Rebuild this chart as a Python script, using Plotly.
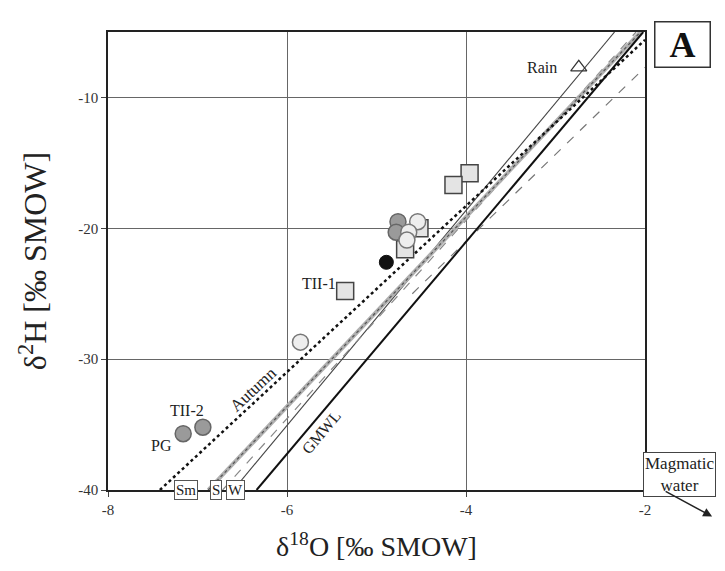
import plotly.graph_objects as go

# ---- data ----
sq_x = [-3.96, -4.14, -4.52, -4.68, -5.35]
sq_y = [-15.8, -16.7, -20.0, -21.6, -24.8]

dark_x = [-4.76, -4.78, -7.16, -6.94]
dark_y = [-19.5, -20.3, -35.7, -35.2]

light_x = [-4.54, -4.64, -4.66, -5.85]
light_y = [-19.5, -20.3, -20.9, -28.7]

black_x = [-4.89]
black_y = [-22.6]

rain_x = [-2.74]
rain_y = [-7.7]

autumn_x = [-7.42, -2.0]
autumn_y = [-40, -5.6]
summer_x = [-6.88, -2.05]
summer_y = [-40, -5]
spring_x = [-6.72, -2.1]
spring_y = [-40, -5]
winter_x = [-6.6, -2.34]
winter_y = [-40, -5]
gmwl_x = [-6.34, -2.02]
gmwl_y = [-40, -5]
rainline_x = [-4.6, -2.0]
rainline_y = [-25, -7.7]

x_ticks = [-8, -6, -4, -2]
x_ticktext = ["-8", "-6", "-4", "-2"]
y_ticks = [-40, -30, -20, -10]
y_ticktext = ["-40", "-30", "-20", "-10"]

FONT = "Liberation Serif, Times New Roman, serif"

fig = go.Figure()

def line(x, y, color, width, dash="solid"):
    fig.add_trace(go.Scatter(x=x, y=y, mode="lines",
                             line=dict(color=color, width=width, dash=dash),
                             hoverinfo="skip", showlegend=False))

line(rainline_x, rainline_y, "#777777", 1.2, "dash")
line(winter_x, winter_y, "#444444", 1.1)
line(spring_x, spring_y, "#888888", 1.2, "dash")
line(summer_x, summer_y, "#b0b0b0", 4)
line(summer_x, summer_y, "#555555", 1.2, "dot")
line(gmwl_x, gmwl_y, "#111111", 2)
line(autumn_x, autumn_y, "#111111", 2.5, "dot")

fig.add_trace(go.Scatter(x=sq_x, y=sq_y, mode="markers", showlegend=False,
                         marker=dict(symbol="square", size=17, color="#e4e4e4",
                                     line=dict(color="#444444", width=1.5))))
fig.add_trace(go.Scatter(x=dark_x, y=dark_y, mode="markers", showlegend=False,
                         marker=dict(symbol="circle", size=16, color="#9a9a9a",
                                     line=dict(color="#666666", width=1.5))))
fig.add_trace(go.Scatter(x=light_x, y=light_y, mode="markers", showlegend=False,
                         marker=dict(symbol="circle", size=16, color="#eeeeee",
                                     line=dict(color="#777777", width=1.5))))
fig.add_trace(go.Scatter(x=black_x, y=black_y, mode="markers", showlegend=False,
                         marker=dict(symbol="circle", size=14, color="#111111",
                                     line=dict(color="#111111", width=1))))
fig.add_trace(go.Scatter(x=rain_x, y=rain_y, mode="markers", showlegend=False,
                         marker=dict(symbol="triangle-up-open", size=14, color="#333333",
                                     line=dict(width=1.2))))

tf = dict(family=FONT, size=16, color="#222222")
labels = [("Rain", -3.15, -7.7), ("TII-1", -5.64, -24.2),
          ("TII-2", -7.12, -33.9), ("PG", -7.40, -36.6)]
for t, x, y in labels:
    fig.add_annotation(x=x, y=y, text=t, showarrow=False, font=tf)

fig.add_annotation(x=-6.38, y=-32.3, text="Autumn", showarrow=False, textangle=-43,
                   font=dict(family=FONT, size=17, color="#222222"))
fig.add_annotation(x=-5.62, y=-35.6, text="GMWL", showarrow=False, textangle=-50,
                   font=dict(family=FONT, size=16, color="#222222"))

for t, x in [("Sm", -7.13), ("S", -6.79), ("W", -6.575)]:
    fig.add_annotation(x=x, y=0, xref="x", yref="paper", text=t, showarrow=False,
                       xanchor="center", yanchor="middle", bgcolor="white",
                       bordercolor="#555555", borderwidth=1, borderpad=1,
                       font=dict(family=FONT, size=15, color="#222222"))

fig.add_annotation(x=1.069, y=0.972, xref="paper", yref="paper", text="<b>A</b>",
                   showarrow=False, xanchor="center", yanchor="middle",
                   width=50, height=40, borderpad=2,
                   bgcolor="white", bordercolor="#333333", borderwidth=1.5,
                   font=dict(family=FONT, size=36, color="#111111"))

fig.add_annotation(x=1.065, y=0.033, xref="paper", yref="paper",
                   text="Magmatic<br>water", showarrow=False, xanchor="center",
                   yanchor="middle", bgcolor="white", align="center",
                   bordercolor="#444444", borderwidth=1, borderpad=1,
                   font=dict(family=FONT, size=17, color="#222222"))
fig.add_annotation(x=1.125, y=-0.058, xref="paper", yref="paper", text="",
                   showarrow=True, ax=-48, ay=-26, arrowhead=2, arrowsize=1.2,
                   arrowwidth=1.5, arrowcolor="#222222")

axis_common = dict(showgrid=True, gridcolor="#666666", gridwidth=1,
                   showline=True, linecolor="#222222", linewidth=1.5, mirror=True,
                   ticks="outside", ticklen=5, tickcolor="#444444", zeroline=False,
                   tickfont=dict(family=FONT, size=15, color="#333333"))

fig.update_xaxes(range=[-8, -2], tickvals=x_ticks, ticktext=x_ticktext,
                 title=dict(text="δ<sup>18</sup>O [‰ SMOW]",
                            font=dict(family=FONT, size=28, color="#222222"),
                            standoff=20),
                 **axis_common)
fig.update_yaxes(range=[-40, -5], tickvals=y_ticks, ticktext=y_ticktext,
                 title=dict(text="δ<sup>2</sup>H [‰ SMOW]",
                            font=dict(family=FONT, size=32, color="#222222"),
                            standoff=22),
                 **axis_common)

fig.update_layout(width=717, height=563, margin=dict(l=100, r=80, t=24, b=81),
                  plot_bgcolor="white", paper_bgcolor="white", showlegend=False)

fig.write_html("out.html")
